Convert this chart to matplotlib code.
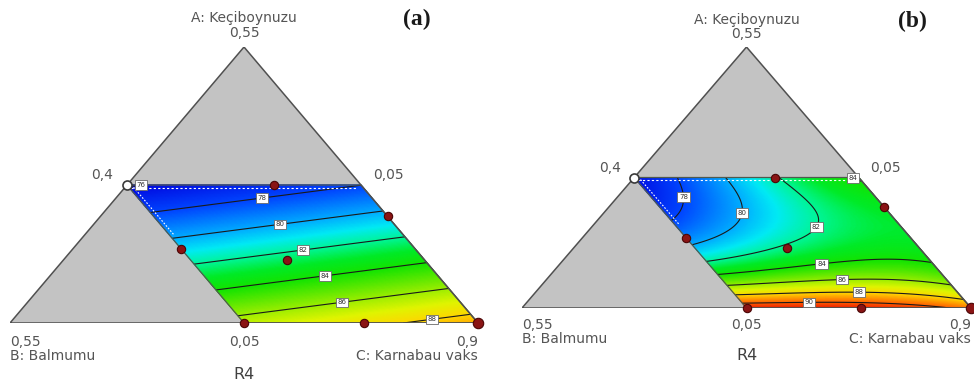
import numpy as np
import matplotlib
matplotlib.use("Agg")
import matplotlib.pyplot as plt
from matplotlib.colors import LinearSegmentedColormap, Normalize
from matplotlib.patches import Polygon

# Mixture bounds: A: Keçiboynuzu, B: Balmumu, C: Karnabau vaks (C = 1 - A - B)
A_MIN, B_MIN, C_MIN = 0.05, 0.05, 0.40
SPAN = 0.50
A_MAX, B_MAX = 0.30, 0.30

# Design points (fractions of A and B)
design_A = [0.300, 0.243, 0.184, 0.165, 0.050, 0.050, 0.050]
design_B = [0.143, 0.050, 0.300, 0.197, 0.300, 0.172, 0.050]
design_big = [False, False, False, False, False, False, True]
open_A = [0.300]
open_B = [0.300]

# R4 values along the contour lines, panel (a)
trace_a_level = [75.9, 78, 78, 80, 80, 82, 82, 84, 84, 86, 86, 88, 88]
trace_a_A = [0.300, 0.2518, 0.2788, 0.2035, 0.2488, 0.1550, 0.2063,
             0.1098, 0.1583, 0.0645, 0.1128, 0.0500, 0.0645]
trace_a_B = [0.300, 0.2958, 0.1685, 0.2953, 0.0553, 0.2965, 0.0520,
             0.2958, 0.0548, 0.2988, 0.0538, 0.1355, 0.0545]

# R4 values along the contour lines, panel (b)
trace_b_level = [76.3,
                 78, 78, 78, 78, 78,
                 80, 80, 80, 80, 80, 80,
                 82, 82, 82, 82, 82, 82, 82, 82,
                 84, 84, 84, 84, 84, 84.2,
                 86, 86, 86, 86,
                 88, 88, 88, 88,
                 90, 90, 90,
                 91.3, 91.6]
trace_b_A = [0.300,
             0.300, 0.260, 0.241, 0.2185, 0.212,
             0.2985, 0.260, 0.228, 0.1995, 0.180, 0.176,
             0.2985, 0.273, 0.247, 0.222, 0.203, 0.180, 0.155, 0.138,
             0.119, 0.1195, 0.138, 0.142, 0.138, 0.300,
             0.094, 0.094, 0.100, 0.0975,
             0.075, 0.071, 0.079, 0.0615,
             0.0615, 0.0595, 0.050,
             0.050, 0.050]
trace_b_B = [0.300,
             0.2545, 0.2655, 0.273, 0.2875, 0.297,
             0.192, 0.206, 0.224, 0.249, 0.2775, 0.298,
             0.142, 0.129, 0.123, 0.1305, 0.149, 0.1865, 0.244, 0.300,
             0.300, 0.261, 0.182, 0.1275, 0.050, 0.050,
             0.300, 0.2725, 0.1485, 0.0525,
             0.300, 0.285, 0.159, 0.054,
             0.300, 0.2245, 0.057,
             0.300, 0.175]

levels_a = [76, 78, 80, 82, 84, 86, 88]
levels_b = [78, 80, 82, 84, 86, 88, 90]

axis_title_A = "A: Keçiboynuzu"
axis_title_B = "B: Balmumu"
axis_title_C = "C: Karnabau vaks"
response_name = "R4"

TEXT_COLOR = "#555555"

# colour scale for R4, keyed by response value
R_LO, R_HI = 76.0, 92.0
scale_stops = [
    (76, (0, 10, 225)), (78, (0, 70, 255)), (80, (0, 175, 255)),
    (81, (0, 235, 245)), (82, (0, 245, 150)), (83, (0, 235, 40)),
    (84, (20, 228, 0)), (85, (90, 232, 0)), (86, (160, 238, 0)),
    (87, (225, 245, 0)), (88, (255, 215, 0)), (89, (255, 150, 0)),
    (90, (255, 90, 0)), (91, (240, 40, 0)), (92, (225, 15, 0)),
]
cmap = LinearSegmentedColormap.from_list(
    "r4", [((v - R_LO) / (R_HI - R_LO), tuple(c / 255 for c in rgb))
           for v, rgb in scale_stops])


def to_xy(A, B):
    A = np.asarray(A, float)
    B = np.asarray(B, float)
    a = (A - A_MIN) / SPAN
    b = (B - B_MIN) / SPAN
    c = 1.0 - a - b
    return c + a / 2.0, a


def features(A, B, degree):
    u = (np.asarray(A, float) - A_MIN) / (A_MAX - A_MIN)
    w = (np.asarray(B, float) - B_MIN) / (B_MAX - B_MIN)
    cols = []
    for i in range(degree + 1):
        for j in range(degree + 1 - i):
            cols.append(u ** i * w ** j)
    return np.stack(cols, axis=-1)


def fit_surface(level, A, B, degree):
    X = features(A, B, degree)
    coef, *_ = np.linalg.lstsq(X, np.asarray(level, float), rcond=None)
    return lambda AA, BB: features(AA, BB, degree) @ coef


def draw_panel(ax, surface, levels, label_pos, tag, bottom_gap, aspect):
    ax.set_xlim(0, 1)
    ax.set_ylim(0, 1)
    ax.axis("off")

    tri = Polygon([(0, 0), (1, 0), (0.5, 1)], closed=True, fc="#c3c3c3",
                  ec="none", zorder=0)
    ax.add_patch(tri)

    Ag, Bg = np.meshgrid(np.linspace(A_MIN, A_MAX, 181),
                         np.linspace(B_MIN, B_MAX, 181), indexing="ij")
    V = surface(Ag, Bg)
    X, Y = to_xy(Ag, Bg)
    norm = Normalize(R_LO, R_HI, clip=True)
    ax.pcolormesh(X, Y, V, cmap=cmap, norm=norm, shading="gouraud", zorder=1)
    cs = ax.contour(X, Y, V, levels=levels, colors="#1a1a1a",
                    linewidths=0.8, zorder=2)

    # contour value tags, each put on its own contour line
    for lev, (qx, qy) in label_pos:
        segs = cs.allsegs[levels.index(lev)]
        if not segs:
            continue
        pts = np.concatenate(segs)
        d = (pts[:, 0] - qx) ** 2 + ((pts[:, 1] - qy) * aspect) ** 2
        px, py = pts[np.argmin(d)]
        ax.text(px, py, f"{lev:d}", ha="center", va="center", fontsize=5,
                color="#333333", zorder=6, clip_on=False,
                bbox=dict(boxstyle="square,pad=0.25", fc="white",
                          ec="#6a6a6a", lw=0.6))

    # feasible region outline
    cx, cy = to_xy([A_MAX, A_MAX, A_MIN, A_MIN, A_MAX],
                   [B_MAX, B_MIN, B_MIN, B_MAX, B_MAX])
    ax.plot(cx, cy, color="#4f5a4f", lw=0.9, zorder=3)
    # constraint edges drawn dashed in white
    tx, ty = to_xy([A_MAX, A_MAX], [B_MAX - 0.004, B_MIN + 0.004])
    ax.plot(tx, ty - 0.010, color="white", lw=0.8, ls=(0, (2, 2)), zorder=3)
    lx, ly = to_xy([A_MAX - 0.004, A_MAX - 0.09], [B_MAX, B_MAX])
    ax.plot(lx + 0.010, ly, color="white", lw=0.8, ls=(0, (1.5, 1.5)), zorder=3)

    # triangle border
    ax.plot([0, 1, 0.5, 0], [0, 0, 1, 0], color="#505050", lw=1.1,
            zorder=4, solid_joinstyle="miter")

    px, py = to_xy(design_A, design_B)
    for x, y, big in zip(px, py, design_big):
        ax.plot(x, y, "o", ms=7.5 if big else 6, mfc="#8a1414", mec="#4a0505",
                mew=0.8, zorder=7, clip_on=False)
    ox, oy = to_xy(open_A, open_B)
    ax.plot(ox, oy, "o", ms=6.5, mfc="white", mec="#3a3a3a", mew=1.2,
            zorder=7, clip_on=False)

    fs = 10
    kw = dict(color=TEXT_COLOR, fontsize=fs, clip_on=False)
    ax.text(0.5, 1.105, axis_title_A, ha="center", va="center", **kw)
    ax.text(0.5, 1.051, "0,55", ha="center", va="center", **kw)
    ax.text(0.22, 0.535, "0,4", ha="right", va="center", **kw)
    ax.text(0.775, 0.535, "0,05", ha="left", va="center", **kw)
    ax.text(0.0, -bottom_gap, "0,55", ha="left", va="center", **kw)
    ax.text(0.5, -bottom_gap, "0,05", ha="center", va="center", **kw)
    ax.text(1.0, -bottom_gap, "0,9", ha="right", va="center", **kw)
    ax.text(0.0, -bottom_gap - 0.052, axis_title_B, ha="left", va="center", **kw)
    ax.text(1.0, -bottom_gap - 0.052, axis_title_C, ha="right", va="center", **kw)
    ax.text(0.5, -bottom_gap - 0.118, response_name, ha="center", va="center",
            color="#404040", fontsize=11.5, clip_on=False)
    ax.text(0.87, 1.098, tag, ha="center", va="center", fontsize=17,
            fontweight="bold", family="Liberation Serif", color="#1a1a1a",
            clip_on=False)


surf_a = fit_surface(trace_a_level, trace_a_A, trace_a_B, 1)
surf_b = fit_surface(trace_b_level, trace_b_A, trace_b_B, 3)

fig = plt.figure(figsize=(9.74, 3.85), dpi=100)
fig.patch.set_facecolor("white")

W, H = 974.0, 385.0
ax_a = fig.add_axes([10 / W, (H - 323) / H, 468 / W, 276 / H])
ax_b = fig.add_axes([522 / W, (H - 308) / H, 449 / W, 261 / H])

draw_panel(ax_a, surf_a, levels_a,
           [(76, (0.284, 0.505)), (78, (0.538, 0.457)), (80, (0.575, 0.370)),
            (82, (0.624, 0.279)), (84, (0.673, 0.185)), (86, (0.709, 0.094)),
            (88, (0.900, 0.036))],
           "(a)", 0.069, 276 / 468)
draw_panel(ax_b, surf_b, levels_b,
           [(78, (0.361, 0.426)), (80, (0.482, 0.367)), (82, (0.652, 0.314)),
            (84, (0.665, 0.191)), (86, (0.713, 0.120)), (88, (0.750, 0.060)),
            (90, (0.639, 0.015)), (84, (0.737, 0.500))],
           "(b)", 0.065, 261 / 449)

fig.savefig("out.png", dpi=100, facecolor="white")
